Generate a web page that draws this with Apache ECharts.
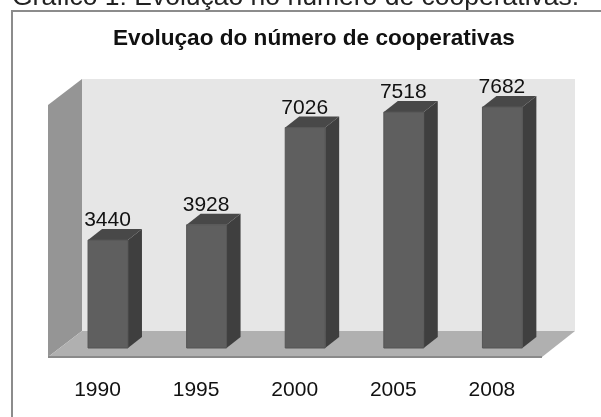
<!DOCTYPE html>
<html>
<head>
<meta charset="utf-8">
<style>
  html, body { margin: 0; padding: 0; background: #fff; overflow: hidden; }
  #main { width: 601px; height: 417px; }
</style>
</head>
<body>
<div id="main"></div>
<script src="https://cdn.jsdelivr.net/npm/echarts@6/dist/echarts.min.js"></script>
<script>
var years = ['1990', '1995', '2000', '2005', '2008']
var cooperativas = [3440, 3928, 7026, 7518, 7682]

var myChart = echarts.init(document.getElementById('main'))
var depthX = 14
var depthY = -11

// barra 3D: frente, lado e topo
function renderBar (params, api) {
  var base = api.coord([api.value(0), 0])
  var top = api.coord([api.value(0), api.value(1)])
  var w = api.size([1, 0])[0] * 0.405
  var x0 = base[0] - w / 2
  var x1 = base[0] + w / 2
  var y0 = base[1]
  var y1 = top[1]
  return {
    type: 'group',
    children: [
      {
        type: 'polygon',
        shape: { points: [[x1, y0], [x1 + depthX, y0 + depthY], [x1 + depthX, y1 + depthY], [x1, y1]] },
        style: { fill: '#3f3f3f' }
      },
      {
        type: 'polygon',
        shape: { points: [[x0, y1], [x1, y1], [x1 + depthX, y1 + depthY], [x0 + depthX, y1 + depthY]] },
        style: { fill: '#484848' }
      },
      {
        type: 'rect',
        shape: { x: x0, y: y1, width: w, height: y0 - y1 },
        style: { fill: '#5f5f5f', stroke: '#555555', lineWidth: 1 }
      },
      {
        type: 'text',
        style: {
          text: String(api.value(1)),
          x: base[0] - 0.5,
          y: y1 - 19.5,
          align: 'center',
          verticalAlign: 'middle',
          fill: '#111111',
          font: '21px "Liberation Sans"'
        }
      }
    ]
  }
}

myChart.setOption({
  animation: false,
  backgroundColor: '#ffffff',
  title: [
    {
      text: 'Gráfico 1: Evolução no número de cooperativas.',
      left: 7,
      top: -21,
      textStyle: { fontFamily: 'Liberation Sans', fontSize: 26.5, fontWeight: 'normal', color: '#222222' }
    },
    {
      text: 'Evoluçao do número de cooperativas',
      left: 108,
      top: 22,
      textStyle: { fontFamily: 'Liberation Sans', fontSize: 22.6, fontWeight: 'bold', color: '#111111' }
    }
  ],
  graphic: [
    {
      type: 'polyline',
      z: 0,
      shape: { points: [[12, 420], [12, 11], [604, 11]] },
      style: { fill: null, stroke: '#8c8c8c', lineWidth: 2 }
    },
    {
      type: 'rect',
      z: 0,
      shape: { x: 82, y: 79, width: 493, height: 252 },
      style: { fill: '#e6e6e6' }
    },
    {
      type: 'polygon',
      z: 0,
      shape: { points: [[48, 105], [82, 79], [82, 331], [48, 357]] },
      style: { fill: '#959595' }
    },
    {
      type: 'polygon',
      z: 0,
      shape: { points: [[48, 357], [82, 331], [575, 331], [542, 357]] },
      style: { fill: '#b0b0b0' }
    },
    {
      type: 'line',
      z: 0,
      shape: { x1: 48, y1: 357, x2: 542, y2: 357 },
      style: { stroke: '#8a8a8a', lineWidth: 2 }
    }
  ],
  grid: { left: 58.7, width: 493, top: 97, height: 251, containLabel: false },
  xAxis: {
    type: 'category',
    data: years,
    axisLine: { show: false },
    axisTick: { show: false },
    axisLabel: {
      margin: 32,
      padding: [0, 21, 0, 0],
      color: '#111111',
      fontFamily: 'Liberation Sans',
      fontSize: 21
    }
  },
  yAxis: {
    type: 'value',
    min: 0,
    max: 8000,
    axisLine: { show: false },
    axisTick: { show: false },
    axisLabel: { show: false },
    splitLine: { show: false }
  },
  series: [
    {
      type: 'custom',
      renderItem: renderBar,
      encode: { x: 0, y: 1 },
      data: years.map(function (y, i) { return [i, cooperativas[i]] })
    }
  ]
})
</script>
</body>
</html>
